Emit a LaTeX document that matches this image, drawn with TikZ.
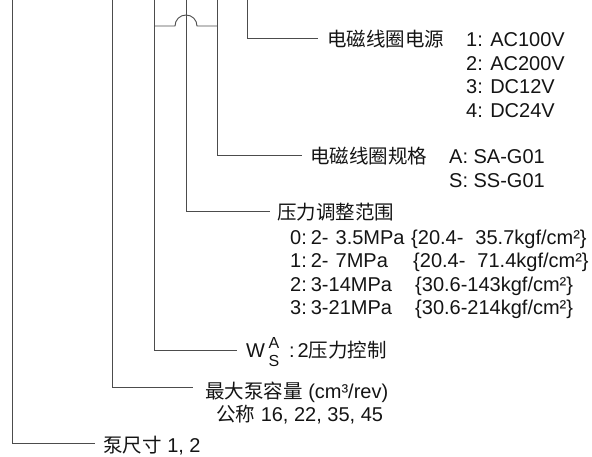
\documentclass[tikz,border=0pt]{standalone}
\usepackage{fontspec}
\setmainfont{Liberation Sans}
\newfontfamily\cjkfont{Noto Sans CJK SC}
\newcommand\zh[1]{{\cjkfont\fontsize{19.5}{23}\selectfont #1}}
\begin{document}
\begin{tikzpicture}[x=1pt,y=-1pt]
\tikzset{
  conn/.style={draw=black!70,line width=0.9pt},
  lab/.style={anchor=base west,inner sep=0pt,text=black!92,font=\fontsize{20}{23}\selectfont},
  small/.style={anchor=center,inner sep=0pt,text=black!92,font=\fontsize{16}{16}\selectfont}
}
\useasboundingbox (0,0) rectangle (592,457);
% top free ends
\coordinate (t1) at (247,0);
\coordinate (t2) at (217,0);
\coordinate (t3) at (186,0);
\coordinate (t4) at (154,0);
\coordinate (t5) at (112,0);
\coordinate (t6) at (12,0);
% line ends
\coordinate (e1) at (318,38.5);
\coordinate (e2) at (302,155);
\coordinate (e3) at (270,211);
\coordinate (e4) at (237,350.5);
\coordinate (e5) at (193,387);
\coordinate (e6) at (95,443.5);
\coordinate (h1) at (154,26);
\coordinate (h2) at (217,26);
\draw[conn] (t1) |- (e1);
\draw[conn] (t2) |- (e2);
\draw[conn] (t3) |- (e3);
\draw[conn] (t4) |- (e4);
\draw[conn] (t5) |- (e5);
\draw[conn] (t6) |- (e6);
\draw[conn] (h1) -- (175,26) arc (180:360:11) -- (h2);
% labels
\node[lab] (n1) at (327,47) {\zh{电磁线圈电源}};
\node[lab] (n1a) at (466,47) {1: AC100V};
\node[lab] (n1b) at (466,70.4) {2: AC200V};
\node[lab] (n1c) at (466,93.8) {3: DC12V};
\node[lab] (n1d) at (466,117.2) {4: DC24V};
\node[lab] (n2) at (310,164) {\zh{电磁线圈规格}};
\node[lab] (n2a) at (449,164) {A: SA-G01};
\node[lab] (n2b) at (449,187.4) {S: SS-G01};
\node[lab] (n3) at (277,220) {\zh{压力调整范围}};
\node[lab] (p0) at (290,244.5) {0:\hspace{0.2em}2-\hspace{0.35em}3.5MPa};
\node[lab] (p1) at (290,268) {1:\hspace{0.2em}2-\hspace{0.35em}7MPa};
\node[lab] (p2) at (290,291.3) {2:\hspace{0.2em}3-14MPa};
\node[lab] (p3) at (290,314.6) {3:\hspace{0.2em}3-21MPa};
\node[lab] (q0) at (411,244.5) {\{20.4-\hspace{0.6em}35.7kgf/cm²\}};
\node[lab] (q1) at (413,268) {\{20.4-\hspace{0.6em}71.4kgf/cm²\}};
\node[lab] (q2) at (415,291.3) {\{30.6-143kgf/cm²\}};
\node[lab] (q3) at (415,314.6) {\{30.6-214kgf/cm²\}};
\node[lab] (n4) at (246,357) {W};
\node[small] (n4a) at (274,342.5) {A};
\node[small] (n4b) at (274,361) {S};
\node[lab] (n4c) at (289,357) {:\hspace{0.15em}2\zh{压力控制}};
\node[lab] (n5) at (205,398) {\zh{最大泵容量} (cm³/rev)};
\node[lab] (n5a) at (216,421) {\zh{公称} 16, 22, 35, 45};
\node[lab] (n6) at (103,452) {\zh{泵尺寸} 1, 2};
\end{tikzpicture}
\end{document}
